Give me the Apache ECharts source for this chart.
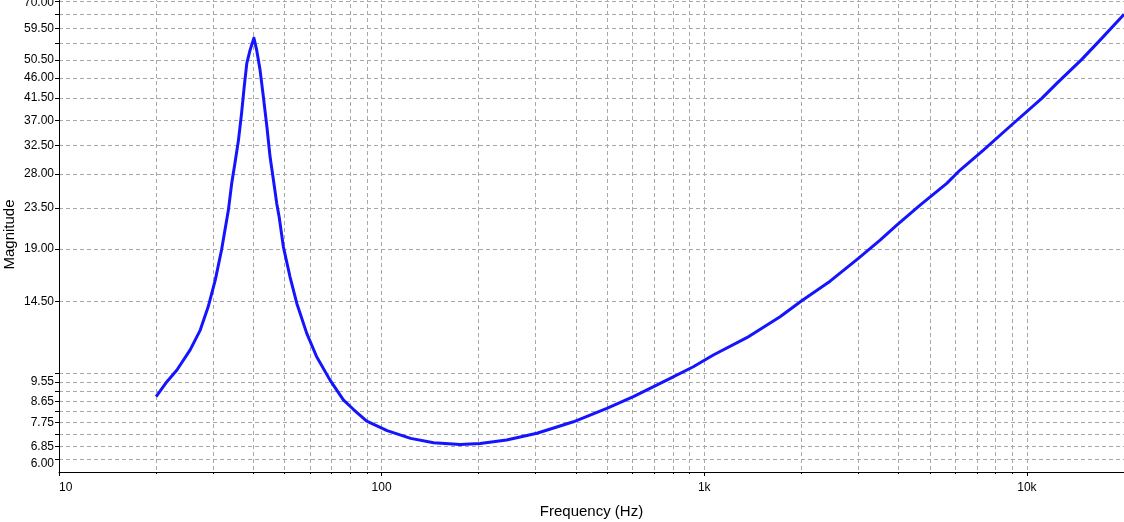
<!DOCTYPE html>
<html>
<head>
<meta charset="utf-8">
<script src="https://cdn.jsdelivr.net/npm/echarts@6/dist/echarts.min.js"></script>
<style>
html,body{margin:0;padding:0;background:#fff;}
#c{width:1124px;height:522px;}
</style>
</head>
<body>
<div id="c"></div>
<script>
// Frequency (Hz) and impedance magnitude
const freq = [20, 21.6, 23.2, 25.5, 27.4, 29.0, 30.5, 31.9, 33.5, 34.3, 35.1, 36.0, 36.8, 37.5, 38.2, 39.1, 40.2, 41.0, 42.0, 43.0, 44.1, 45.1, 46.2, 47.3, 48.2, 49.6, 52.0, 54.6, 58.6, 62.9, 69.2, 76.1, 81.7, 89.9, 104, 123, 145, 175, 202, 244, 303, 393, 499, 603, 765, 925, 1067, 1355, 1718, 2005, 2455, 3004, 3508, 3951, 4667, 5646, 6209, 7333, 9000, 11122, 12380, 14800, 16860, 19690, 20000];
const mag = [8.86, 9.57, 10.17, 11.28, 12.50, 14.10, 16.19, 18.91, 23.25, 26.70, 29.61, 33.39, 38.34, 43.99, 49.65, 53.18, 56.6, 53.18, 47.96, 41.77, 35.77, 30.63, 27.16, 24.07, 22.28, 19.23, 16.47, 14.35, 12.29, 10.89, 9.65, 8.71, 8.30, 7.81, 7.43, 7.14, 6.98, 6.92, 6.95, 7.08, 7.33, 7.78, 8.34, 8.86, 9.65, 10.34, 10.99, 12.02, 13.39, 14.55, 16.1, 18.12, 19.91, 21.52, 23.86, 26.70, 28.60, 31.71, 36.2, 41.43, 44.77, 50.69, 56.0, 63.2, 64.0];

// X axis ticks
const xMajor = [10, 100, 1000, 10000];
const xMajorText = ['10', '100', '1k', '10k'];
const xMinor = [20, 30, 40, 50, 60, 70, 80, 90, 200, 300, 400, 500, 600, 700, 800, 900, 2000, 3000, 4000, 5000, 6000, 7000, 8000, 9000];

// Y axis ticks / labels
const yTicks = [6.4, 6.85, 7.3, 7.75, 8.2, 8.65, 9.1, 9.55, 10, 14.5, 19, 23.5, 28, 32.5, 37, 41.5, 46, 50.5, 55, 59.5, 64, 68.5];
const yLabelPos = [6.25, 6.85, 7.75, 8.65, 9.55, 14.5, 19, 23.5, 28, 32.5, 37, 41.5, 46, 50.5, 59.5, 68.1];
const yLabelText = ['6.00', '6.85', '7.75', '8.65', '9.55', '14.50', '19.00', '23.50', '28.00', '32.50', '37.00', '41.50', '46.00', '50.50', '59.50', '70.00'];

const FONT = '"Liberation Sans", Arial, sans-serif';
const gridLine = {show: true, lineStyle: {color: '#a8a8a8', width: 1, type: [4, 3]}};

function pick(vals, texts, v) {
  let best = 0, bd = Infinity;
  vals.forEach((p, i) => { const d = Math.abs(Math.log(p) - Math.log(v)); if (d < bd) { bd = d; best = i; } });
  return texts[best];
}

const chart = echarts.init(document.getElementById('c'), null, {renderer: 'canvas'});
chart.setOption({
  animation: false,
  backgroundColor: '#ffffff',
  grid: {left: 59, right: 0, top: -3, bottom: 50, containLabel: false, outerBoundsMode: 'none'},
  xAxis: [{
    type: 'log', logBase: 10, min: 10, max: 20000,
    name: 'Frequency (Hz)', nameLocation: 'middle', nameGap: 32,
    nameTextStyle: {fontFamily: FONT, fontSize: 15, color: '#000'},
    axisLine: {show: true, lineStyle: {color: '#000', width: 1}},
    axisTick: {show: true, inside: false, length: 2, customValues: xMajor.concat(xMinor), lineStyle: {color: '#000'}},
    axisLabel: {show: true, customValues: xMajor, margin: 10, fontFamily: FONT, fontSize: 12, color: '#000',
      alignMinLabel: 'left',
      formatter: v => pick(xMajor, xMajorText, v)},
    splitLine: gridLine,
    minorTick: {show: false}, minorSplitLine: {show: false}
  }, {
    type: 'log', logBase: 10, min: 10, max: 20000, position: 'bottom', gridIndex: 0,
    axisLine: {show: false},
    axisTick: {show: true, length: 4, customValues: xMajor, lineStyle: {color: '#000'}},
    axisLabel: {show: false},
    splitLine: {show: false}
  }],
  yAxis: {
    type: 'log', logBase: 10, min: 6, max: 70,
    name: 'Magnitude', nameLocation: 'middle', nameGap: 42, nameRotate: 90, nameMoveOverlap: false,
    nameTextStyle: {fontFamily: FONT, fontSize: 15, color: '#000'},
    axisLine: {show: true, lineStyle: {color: '#000', width: 1}},
    axisTick: {show: true, length: 4, customValues: yTicks, lineStyle: {color: '#000'}},
    axisLabel: {show: true, customValues: yLabelPos, margin: 5, fontFamily: FONT, fontSize: 12, color: '#000',
      formatter: v => pick(yLabelPos, yLabelText, v)},
    splitLine: gridLine,
    minorTick: {show: false}, minorSplitLine: {show: false}
  },
  series: [{
    type: 'line',
    xAxisIndex: 0,
    data: freq.map((f, i) => [f, mag[i]]),
    showSymbol: false,
    symbol: 'none',
    smooth: false,
    lineStyle: {color: '#1414ff', width: 3, join: 'round'},
    clip: true
  }]
});
</script>
</body>
</html>
